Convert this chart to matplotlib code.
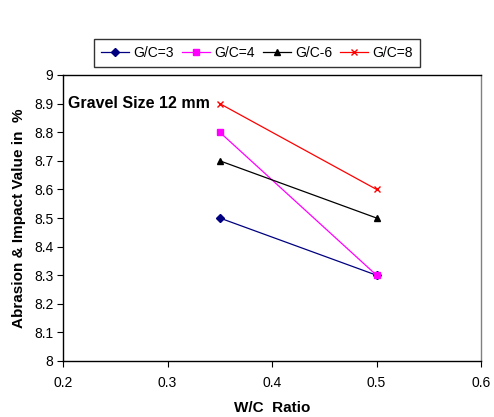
import matplotlib.pyplot as plt

plt.rcParams['font.family'] = ['Liberation Sans', 'DejaVu Sans']

wc = [0.35, 0.5]
gc3 = [8.5, 8.3]
gc4 = [8.8, 8.3]
gc6 = [8.7, 8.5]
gc8 = [8.9, 8.6]
labels = ["G/C=3", "G/C=4", "G/C-6", "G/C=8"]

fig = plt.figure(figsize=(4.94, 4.17), dpi=100)
ax = fig.add_axes([63 / 494, 1 - 361 / 417, (481 - 63) / 494, (361 - 75) / 417])

ax.plot(wc, gc3, color="#000080", marker="D", markersize=4, lw=0.9, label=labels[0])
ax.plot(wc, gc4, color="#FF00FF", marker="s", markersize=5, lw=0.9, label=labels[1])
ax.plot(wc, gc6, color="black", marker="^", markersize=5, lw=0.9, label=labels[2])
ax.plot(wc, gc8, color="red", marker="x", markersize=5, lw=0.9, label=labels[3])

ax.set_xlim(0.2, 0.6)
ax.set_ylim(8, 9)
ax.set_xticks([0.2, 0.3, 0.4, 0.5, 0.6])
ax.set_yticks([8 + i * 0.1 for i in range(11)])
ax.set_xticklabels(["0.2", "0.3", "0.4", "0.5", "0.6"])
ax.set_yticklabels(["8", "8.1", "8.2", "8.3", "8.4", "8.5", "8.6", "8.7", "8.8", "8.9", "9"])
ax.tick_params(direction="out", length=4, width=0.8, labelsize=10, pad=3)
for s in ["left", "bottom", "top"]:
    ax.spines[s].set_linewidth(1.0)
ax.spines["right"].set_color("#808080")
ax.spines["right"].set_linewidth(1.0)
ax.tick_params(axis="x", pad=7)

ax.set_xlabel("W/C  Ratio", fontsize=11, fontweight="bold", labelpad=8)
ax.set_ylabel("Abrasion & Impact Value in  %", fontsize=11, fontweight="bold", labelpad=6)

ax.text(0.2045, 8.9, "Gravel Size 12 mm", fontsize=11.5, fontweight="bold", va="center", ha="left")

fig.legend(loc="center", bbox_to_anchor=(257 / 494, 1 - 53 / 417), ncol=4, fontsize=10,
           frameon=True, fancybox=False, edgecolor="black", handlelength=2.0,
           columnspacing=0.6, handletextpad=0.3, borderpad=0.5)

fig.savefig("out.png", dpi=100)
